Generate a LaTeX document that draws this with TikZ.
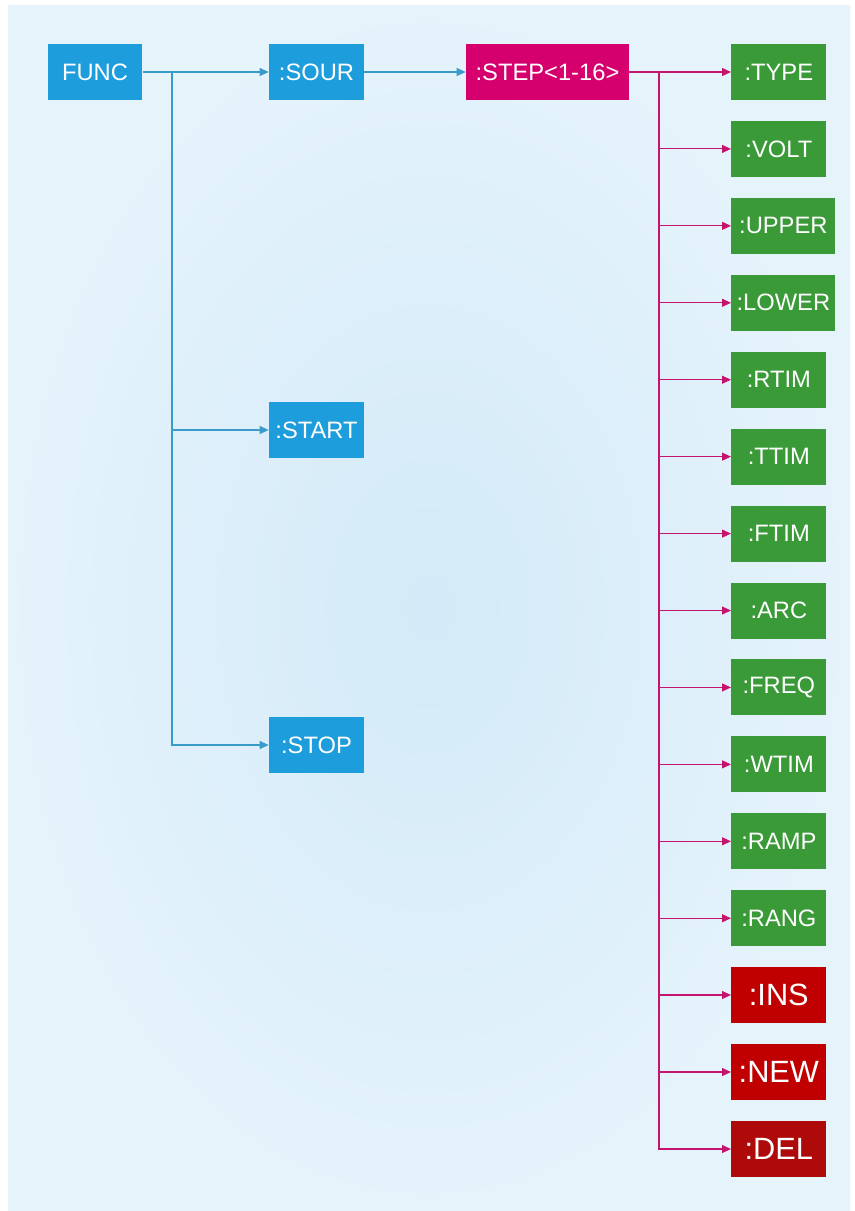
\documentclass[tikz,border=0pt]{standalone}
\usepackage{fontspec}
\setmainfont{Liberation Sans}
\usetikzlibrary{arrows.meta}
\definecolor{funcblue}{HTML}{1E9DDC}
\definecolor{steppink}{HTML}{D5006E}
\definecolor{parmgreen}{HTML}{3A9A38}
\definecolor{cmdred}{HTML}{C00000}
\definecolor{delred}{HTML}{AE0A0A}
\definecolor{bluewire}{HTML}{3A9BCB}
\definecolor{pinkwire}{HTML}{C5146E}
\definecolor{bginner}{HTML}{D3EAF8}
\definecolor{bgouter}{HTML}{E5F3FB}
\tikzset{
	box/.style={text=white, inner sep=0pt, minimum width=1.9cm, minimum height=1.12cm, font=\fontsize{13.5}{16}\selectfont},
	bigbox/.style={box, font=\fontsize{17.5}{20}\selectfont},
	bwire/.style={draw=bluewire, line width=0.6pt, -{Triangle[length=1.8mm,width=1.6mm]}},
	pwire/.style={draw=pinkwire, line width=0.6pt, -{Triangle[length=1.8mm,width=1.6mm]}}
}

\begin{document}
\begin{tikzpicture}[x=0.02cm, y=-0.02cm]
		%%%%% START %%%%%
		\useasboundingbox (0, 0) rectangle (855, 1211);
		\shade[inner color=bginner, outer color=bgouter] (8, 5) rectangle (850, 1210);
		
		\node[box, fill=funcblue] (FUNC) at (95, 72) {FUNC};
		\node[box, fill=funcblue] (SOUR) at (316.5, 72) {:SOUR};
		\node[box, fill=funcblue] (START) at (316.5, 430) {:START};
		\node[box, fill=funcblue] (STOP) at (316.5, 745) {:STOP};
		\node[box, fill=steppink, minimum width=3.26cm] (STEP) at (547.5, 72) {:STEP<1-16>};
		
		\coordinate (fsplit) at (172, 72);
		\coordinate (ssplit) at (659, 72);
		
		\draw[bwire] (FUNC) -- (SOUR);
		\draw[bwire] (fsplit) |- (START);
		\draw[bwire] (fsplit) |- (STOP);
		\draw[bwire] (SOUR) -- (STEP);
		\draw[pinkwire, line width=0.6pt] (STEP) -- (ssplit);
		
		\foreach \lab/\row/\bw in {TYPE/0/95, VOLT/1/95, UPPER/2/104, LOWER/3/104, RTIM/4/95, TTIM/5/95, FTIM/6/95, ARC/7/95, FREQ/8/95, WTIM/9/95, RAMP/10/95, RANG/11/95}{
			\node[box, fill=parmgreen, anchor=west, minimum width={\bw*0.2mm}] (\lab) at (731, {72+76.93*\row}) {:\lab};
			\draw[pwire] (ssplit) |- (\lab.west);
		}
		
		\node[bigbox, fill=cmdred, anchor=west] (INS) at (731, 995) {:INS};
		\node[bigbox, fill=cmdred, anchor=west] (NEW) at (731, 1072) {:NEW};
		\node[bigbox, fill=delred, anchor=west] (DEL) at (731, 1149) {:DEL};
		\draw[pwire] (ssplit) |- (INS.west);
		\draw[pwire] (ssplit) |- (NEW.west);
		\draw[pwire] (ssplit) |- (DEL.west);
		
		%%%%% END %%%%%
	\end{tikzpicture}
\end{document}
